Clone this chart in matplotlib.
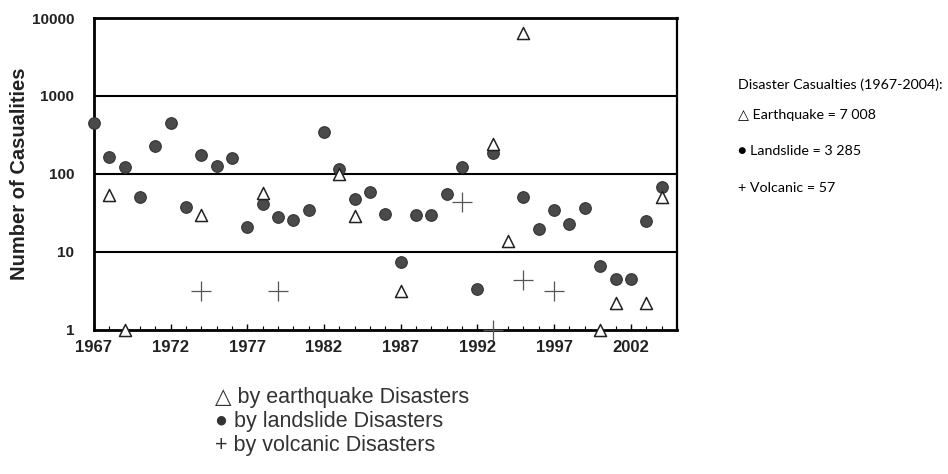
import matplotlib.pyplot as plt
from matplotlib.ticker import FixedLocator, NullLocator

# Casualties (log scale)
quake_years = [1968, 1969, 1974, 1978, 1983, 1984, 1987, 1993, 1994, 1995, 2000, 2001, 2003, 2004]
quake_vals = [54, 1, 30, 57, 100, 29, 3.2, 240, 14, 6430, 1, 2.2, 2.2, 51]

slide_years = [1967, 1968, 1969, 1970, 1971, 1972, 1973, 1974, 1975, 1976, 1977, 1978, 1979,
               1980, 1981, 1982, 1983, 1984, 1985, 1986, 1987, 1988, 1989, 1990, 1991, 1992,
               1993, 1995, 1996, 1997, 1998, 1999, 2000, 2001, 2002, 2003, 2004]
slide_vals = [450, 165, 123, 51, 230, 450, 38, 175, 126, 162, 21, 41, 28,
              26, 35, 350, 115, 48, 59, 31, 7.5, 30, 30, 56, 122, 3.3,
              185, 50, 19.5, 34, 23, 37, 6.6, 4.5, 4.5, 25, 68]

volc_years = [1974, 1979, 1991, 1993, 1995, 1997]
volc_vals = [3.2, 3.2, 44, 1, 4.4, 3.2]

year_ticks = [1967, 1972, 1977, 1982, 1987, 1992, 1997, 2002]
y_ticks = [1, 10, 100, 1000, 10000]

legend_lines = ['\u25b3 by earthquake Disasters', '\u25cf by landslide Disasters', '+ by volcanic Disasters']
totals_title = 'Disaster Casualties (1967-2004):'
totals_lines = ['\u25b3 Earthquake = 7 008', '\u25cf Landslide = 3 285', '+ Volcanic = 57']

plt.rcParams['font.family'] = ['Liberation Sans', 'DejaVu Sans']

fig = plt.figure(figsize=(9.48, 4.74), dpi=100)
ax = fig.add_axes([0.099, 0.304, 0.615, 0.658])

ax.set_yscale('log')
ax.set_ylim(1, 10000)
ax.set_xlim(1967, 2005)

for v in [10, 100, 1000]:
    ax.axhline(v, color='black', lw=1.5, zorder=1)

ax.scatter(slide_years, slide_vals, s=70, color='#4a4a4a', edgecolors='#333333',
           linewidths=0.8, zorder=3, clip_on=False)
ax.scatter(quake_years, quake_vals, s=75, marker='^', facecolors='white',
           edgecolors='#222222', linewidths=1.1, zorder=4, clip_on=False)
ax.scatter(volc_years, volc_vals, s=200, marker='+', color='#555555',
           linewidths=0.9, zorder=5, clip_on=False)

ax.yaxis.set_major_locator(FixedLocator(y_ticks))
ax.yaxis.set_minor_locator(NullLocator())
ax.set_yticklabels([str(t) for t in y_ticks], fontsize=11, fontweight='bold', color='#222222')
ax.tick_params(axis='y', length=0, pad=14)

ax.xaxis.set_major_locator(FixedLocator(year_ticks))
ax.xaxis.set_minor_locator(FixedLocator(list(range(1967, 2006))))
ax.set_xticklabels([str(t) for t in year_ticks], fontsize=12, fontweight='bold', color='#222222')
ax.tick_params(axis='x', which='major', direction='in', length=4, width=1, pad=7)
ax.tick_params(axis='x', which='minor', direction='in', length=3, width=0.8)

for side in ['left', 'bottom', 'top']:
    ax.spines[side].set_linewidth(2)
ax.spines['right'].set_linewidth(1.6)

ax.set_ylabel('Number of Casualities', fontsize=14.5, fontweight='bold', color='#222222', labelpad=2)

# legend text under the plot
for i, line in enumerate(legend_lines):
    fig.text(0.227, 1 - (398 + 23.5 * i) / 474, line, fontsize=15.5, color='#333333',
             va='center', ha='left')

# totals box on the right
fig.text(0.778, 1 - 85 / 474, totals_title, fontsize=10.3, family=['Lato', 'DejaVu Sans'],
         va='center', ha='left')
for i, line in enumerate(totals_lines):
    fig.text(0.778, 1 - (115 + 36.5 * i) / 474, line, fontsize=10.3,
             family=['Lato', 'DejaVu Sans'], va='center', ha='left')

fig.savefig('out.png', dpi=100)
